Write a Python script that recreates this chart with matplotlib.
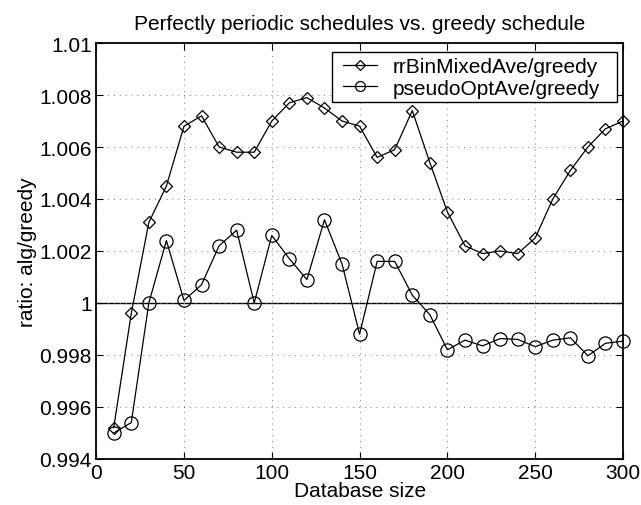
import numpy as np
import matplotlib.pyplot as plt
from matplotlib.patches import Rectangle
from matplotlib.transforms import IdentityTransform

plt.rcParams['font.family'] = ['Liberation Sans', 'DejaVu Sans']

db_size = list(range(10, 301, 10))

rr_bin_mixed = [0.9952, 0.9996, 1.0031, 1.0045, 1.0068, 1.0072, 1.0060, 1.0058,
                1.0058, 1.0070, 1.0077, 1.0079, 1.0075, 1.0070, 1.0068, 1.0056,
                1.0059, 1.0074, 1.0054, 1.0035, 1.0022, 1.0019, 1.0020, 1.0019,
                1.0025, 1.0040, 1.0051, 1.0060, 1.0067, 1.0070]

pseudo_opt = [0.9950, 0.9954, 1.0000, 1.0024, 1.0001, 1.0007, 1.0022, 1.0028,
              1.0000, 1.0026, 1.0017, 1.0009, 1.0032, 1.0015, 0.9988, 1.0016,
              1.0016, 1.0003, 0.99955, 0.9982, 0.99857, 0.99835, 0.99863, 0.9986,
              0.99832, 0.99857, 0.99866, 0.99797, 0.99845, 0.99853]

yticks = [0.994, 0.996, 0.998, 1, 1.002, 1.004, 1.006, 1.008, 1.01]
ytick_labels = ['0.994', '0.996', '0.998', '1', '1.002', '1.004', '1.006',
                '1.008', '1.01']

fig = plt.figure(figsize=(6.41, 5.06), dpi=100)
ax = fig.add_axes([0.150, 0.091, 0.822, 0.822])

ax.axhline(1.0, color='k', linewidth=1.0, zorder=1)
ax.plot(db_size, rr_bin_mixed, color='k', linewidth=0.9, marker='D',
        markersize=6.6, markerfacecolor='none', markeredgewidth=0.9,
        label='rrBinMixedAve/greedy', clip_on=False, zorder=3)
ax.plot(db_size, pseudo_opt, color='k', linewidth=0.9, marker='o',
        markersize=9.5, markerfacecolor='none', markeredgewidth=0.9,
        label='pseudoOptAve/greedy', clip_on=False, zorder=3)

ax.set_xlim(0, 300)
ax.set_ylim(0.994, 1.01)
ax.set_xticks([0, 50, 100, 150, 200, 250, 300])
ax.set_yticks(yticks)
ax.set_yticklabels(ytick_labels)
ax.grid(True, linestyle=(0, (1, 5)), color='#777777', linewidth=0.7)
ax.tick_params(direction='in', top=True, right=True, labelsize=15, length=5,
               pad=3)
for sp in ax.spines.values():
    sp.set_linewidth(1.3)

ax.set_xlabel('Database size', fontsize=15, labelpad=-1)
ax.set_ylabel('ratio: alg/greedy', fontsize=15, labelpad=2)
ax.set_title('Perfectly periodic schedules vs. greedy schedule', fontsize=15,
             pad=10)

# legend without its own frame; the box is drawn by hand (wider at the sides)
leg = ax.legend(loc='upper right', bbox_to_anchor=(0.957, 0.966),
                borderaxespad=0, borderpad=0, frameon=False, fontsize=15,
                handlelength=1.65, handletextpad=0.75, labelspacing=0.12,
                markerscale=0.75)
leg.set_zorder(6)
fig.canvas.draw()
bb = leg.get_window_extent()
box = Rectangle((bb.x0 - 11, bb.y0 - 4), bb.width + 28, bb.height + 9,
                transform=IdentityTransform(), facecolor='w', edgecolor='k',
                linewidth=1.0, zorder=5.5, clip_on=False)
ax.add_patch(box)

fig.savefig('out.png', dpi=100)
